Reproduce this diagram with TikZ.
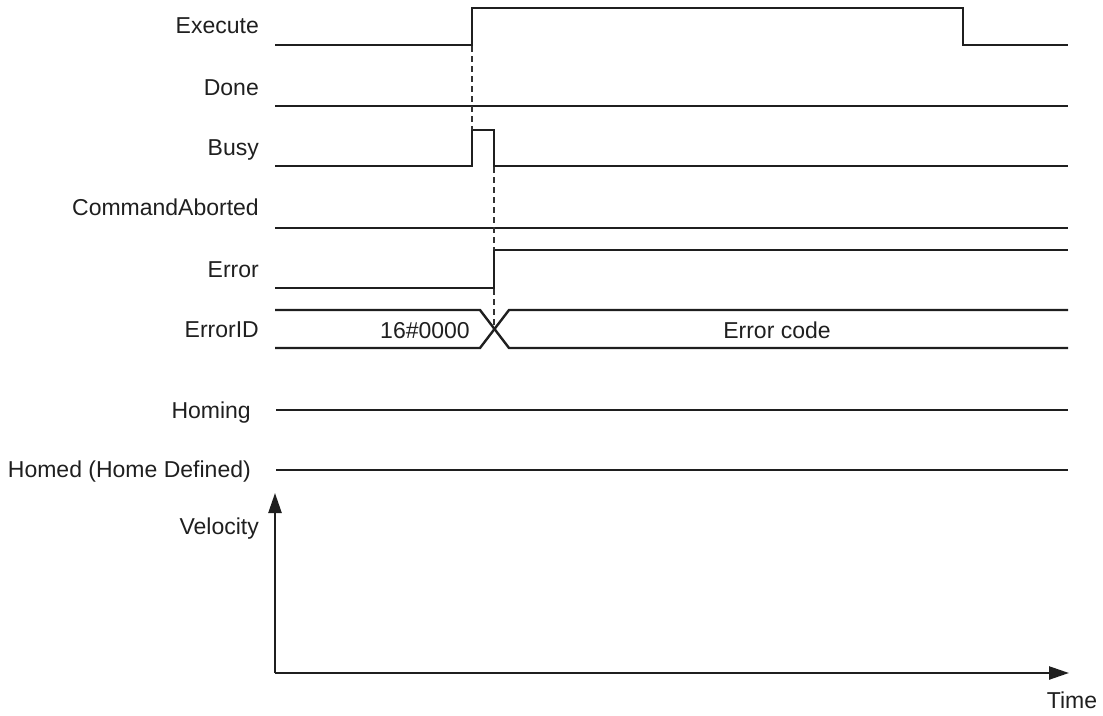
\documentclass[tikz,border=0pt]{standalone}
\usepackage{fontspec}
\setmainfont{Liberation Sans}
\usetikzlibrary{arrows.meta}
\begin{document}
\begin{tikzpicture}[x=1pt,y=-1pt,
  sig/.style={line width=2.4pt,line join=miter,color=black!88},
  guide/.style={line width=1.1pt,dash pattern=on 6pt off 4pt,color=black!80},
  lbl/.style={font=\fontsize{23}{26}\selectfont,anchor=base east,inner sep=0pt,text=black!88},
  txt/.style={font=\fontsize{23}{26}\selectfont,anchor=base,inner sep=0pt,text=black!88},
  axis/.style={line width=2.4pt,color=black!88,-{Triangle[length=20pt,width=13pt]}}]
\useasboundingbox (0,0) rectangle (1103,715);
% labels
\node[lbl] (lExe) at (259,33) {Execute};
\node[lbl] (lDone) at (259,95) {Done};
\node[lbl] (lBusy) at (259,155) {Busy};
\node[lbl] (lCA) at (259,215) {CommandAborted};
\node[lbl] (lErr) at (259,277) {Error};
\node[lbl] (lEID) at (259,337) {ErrorID};
\node[lbl] (lHoming) at (251,418) {Homing};
\node[lbl] (lHomed) at (251,477) {Homed (Home Defined)};
\node[lbl] (lVel) at (259,534) {Velocity};
\node[txt] (lTime) at (1072,708) {Time};
% key coordinates
\coordinate (t1) at (472,0);
\coordinate (t2) at (494,0);
% Execute
\draw[sig] (275,45) -- (472,45) -- (472,8) -- (963,8) -- (963,45) -- (1068,45);
% Done
\draw[sig] (275,106) -- (1068,106);
% Busy
\draw[sig] (275,166) -- (472,166) -- (472,130) -- (494,130) -- (494,166) -- (1068,166);
% CommandAborted
\draw[sig] (275,228) -- (1068,228);
% Error
\draw[sig] (275,288) -- (494,288) -- (494,250) -- (1068,250);
% ErrorID
\draw[sig] (275,310) -- (480,310) -- (509,348) -- (1068,348);
\draw[sig] (275,348) -- (480,348) -- (509,310) -- (1068,310);
\node[txt] (v0) at (425,338) {16\#0000};
\node[txt] (v1) at (777,338) {Error code};
% Homing / Homed
\draw[sig] (276,410) -- (1068,410);
\draw[sig] (276,470) -- (1068,470);
% guides
\draw[guide] (472,46) -- (472,130);
\draw[guide] (494,167) -- (494,250);
\draw[guide] (494,289) -- (494,329);
% axes
\coordinate (origin) at (275,673);
\draw[axis] (origin) -- (275,493);
\draw[axis] (origin) -- (1069,673);
\end{tikzpicture}
\end{document}
